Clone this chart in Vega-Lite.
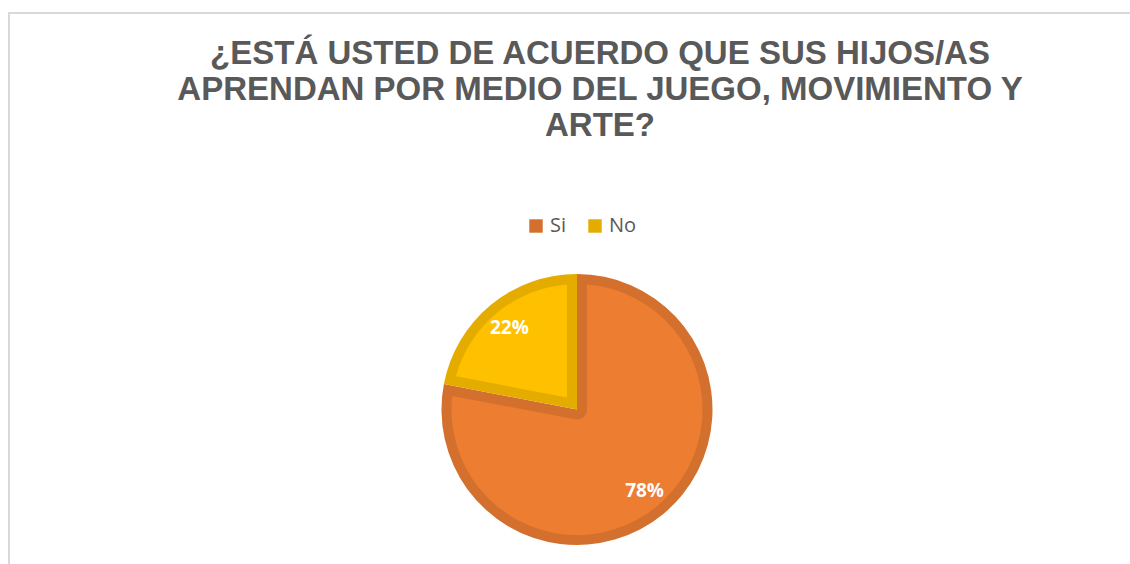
{
  "$schema": "https://vega.github.io/schema/vega-lite/v6.json",
  "autosize": {"type": "none"},
  "padding": {"left": 9, "top": 13, "right": 0, "bottom": 0},
  "width": 1136,
  "height": 793,
  "background": "white",
  "view": {"stroke": "#D9D9D9", "strokeWidth": 2, "fill": "white"},
  "title": {
    "text": ["¿ESTÁ USTED DE ACUERDO QUE SUS HIJOS/AS", "APRENDAN POR MEDIO DEL JUEGO, MOVIMIENTO Y", "ARTE?"],
    "font": "Liberation Sans",
    "fontSize": 33,
    "fontWeight": "bold",
    "color": "#595959",
    "lineHeight": 36,
    "anchor": "middle",
    "frame": "group",
    "dx": 23,
    "offset": -130
  },
  "data": {
    "values": [
      {"respuesta": "Si", "porcentaje": 78, "etiqueta": "78%", "orden": 1},
      {"respuesta": "No", "porcentaje": 22, "etiqueta": "22%", "orden": 2}
    ]
  },
  "encoding": {
    "theta": {"field": "porcentaje", "type": "quantitative", "stack": true},
    "order": {"field": "orden", "type": "quantitative"}
  },
  "layer": [
    {
      "mark": {"type": "arc", "outerRadius": 135.5},
      "encoding": {
        "color": {
          "field": "respuesta",
          "type": "nominal",
          "scale": {"domain": ["Si", "No"], "range": ["#D4702D", "#E5AC00"]},
          "legend": {
            "title": null,
            "orient": "none",
            "legendX": 517,
            "legendY": 203,
            "direction": "horizontal",
            "symbolType": "square",
            "symbolSize": 180,
            "symbolStrokeWidth": 0,
            "labelFont": "Open Sans",
            "labelFontSize": 20,
            "labelColor": "#595959",
            "labelOffset": 4,
            "columnPadding": 18
          }
        }
      }
    },
    {
      "mark": {"type": "arc", "outerRadius": 125.5, "innerRadius": 10, "padAngle": 0.159},
      "encoding": {
        "fill": {
          "field": "respuesta",
          "type": "nominal",
          "scale": {"domain": ["Si", "No"], "range": ["#ED7D31", "#FFC000"]},
          "legend": null
        },
        "opacity": {
          "field": "respuesta",
          "type": "nominal",
          "scale": {"domain": ["Si", "No"], "range": [1, 0]},
          "legend": null
        }
      }
    },
    {
      "mark": {"type": "arc", "outerRadius": 125.5, "innerRadius": 15.7, "padAngle": 0.1583},
      "encoding": {
        "fill": {
          "field": "respuesta",
          "type": "nominal",
          "scale": {"domain": ["Si", "No"], "range": ["#ED7D31", "#FFC000"]},
          "legend": null
        },
        "opacity": {
          "field": "respuesta",
          "type": "nominal",
          "scale": {"domain": ["Si", "No"], "range": [0, 1]},
          "legend": null
        }
      }
    },
    {
      "mark": {"type": "text", "radius": 106, "font": "Open Sans", "fontSize": 19, "fontWeight": "bold", "color": "white"},
      "encoding": {
        "text": {"field": "etiqueta", "type": "nominal"}
      }
    }
  ],
  "resolve": {"scale": {"opacity": "independent"}},
  "config": {
    "view": {"stroke": "#D9D9D9", "strokeWidth": 2}
  }
}
